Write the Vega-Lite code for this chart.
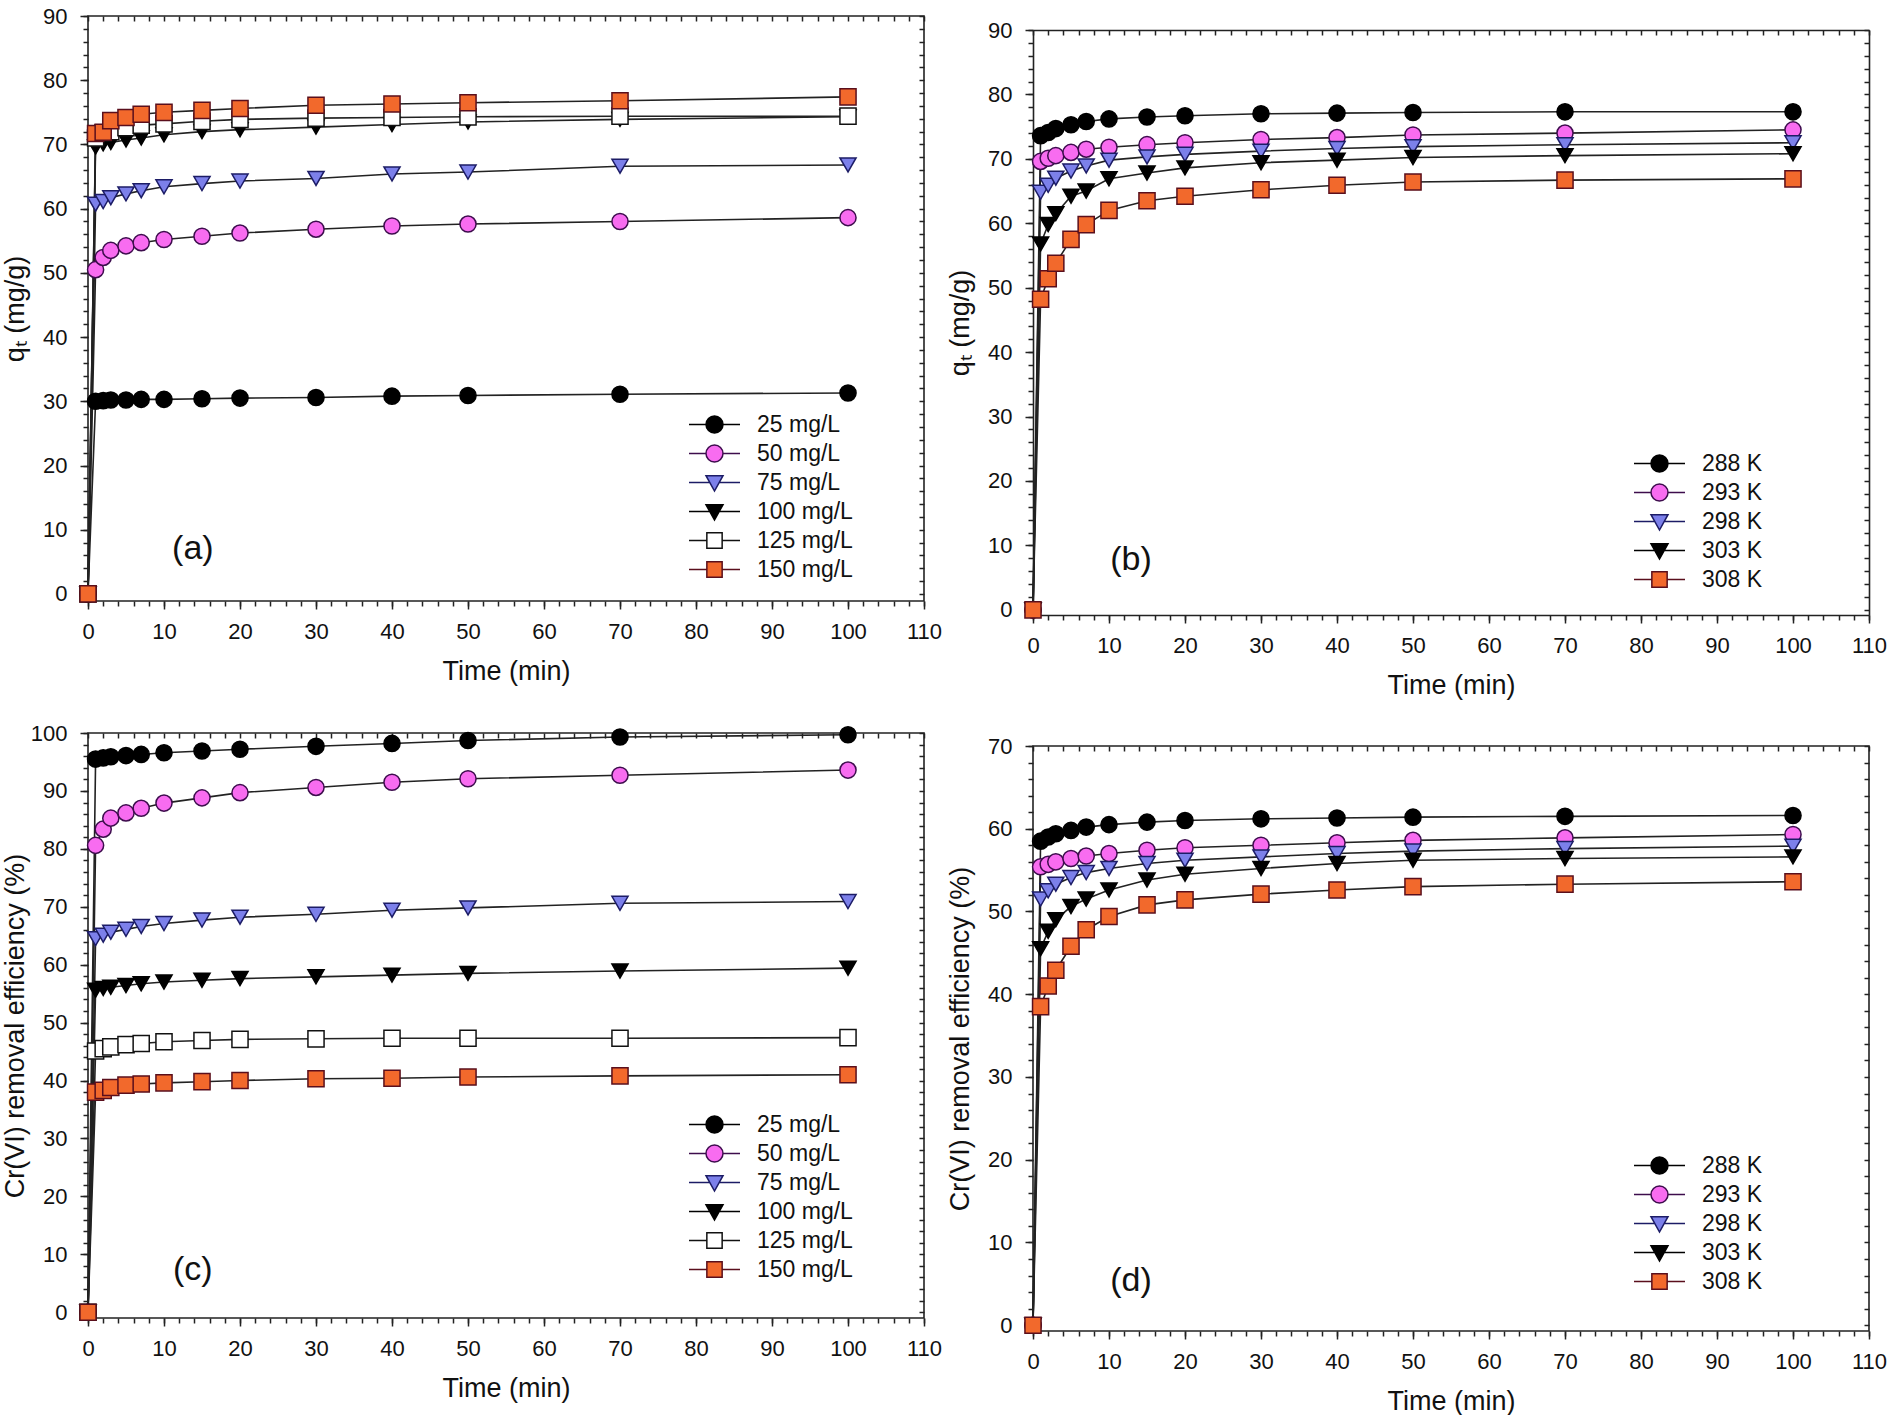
{
"$schema": "https://vega.github.io/schema/vega-lite/v6.json",
"background": "white",
"padding": {"left": 0, "top": 4, "right": 0, "bottom": 0},
"spacing": 2,
"config": {
  "font": "Liberation Sans",
  "view": {"stroke": "#222222", "strokeWidth": 1.6},
  "axis": {"labelFont": "Liberation Sans", "labelFontSize": 22, "labelColor": "#111111", "labelFlush": false, "labelOverlap": false, "titleFont": "Liberation Sans", "titleFontSize": 27, "titleFontWeight": "normal", "titleColor": "#111111", "tickColor": "#222222", "tickWidth": 1.5, "grid": false, "domain": false, "domainColor": "#222222", "domainWidth": 1.6},
  "legend": {"labelFont": "Liberation Sans", "labelFontSize": 23, "labelColor": "#111111"}
},
"datasets": {
"qconc": [
{"t":0,"s":"25 mg/L","v":0},{"t":1,"s":"25 mg/L","v":30.0},{"t":2,"s":"25 mg/L","v":30.1},{"t":3,"s":"25 mg/L","v":30.2},{"t":5,"s":"25 mg/L","v":30.2},{"t":7,"s":"25 mg/L","v":30.3},{"t":10,"s":"25 mg/L","v":30.3},{"t":15,"s":"25 mg/L","v":30.4},{"t":20,"s":"25 mg/L","v":30.5},{"t":30,"s":"25 mg/L","v":30.6},{"t":40,"s":"25 mg/L","v":30.8},{"t":50,"s":"25 mg/L","v":30.9},{"t":70,"s":"25 mg/L","v":31.1},{"t":100,"s":"25 mg/L","v":31.3},
{"t":0,"s":"50 mg/L","v":0},{"t":1,"s":"50 mg/L","v":50.5},{"t":2,"s":"50 mg/L","v":52.4},{"t":3,"s":"50 mg/L","v":53.5},{"t":5,"s":"50 mg/L","v":54.2},{"t":7,"s":"50 mg/L","v":54.7},{"t":10,"s":"50 mg/L","v":55.2},{"t":15,"s":"50 mg/L","v":55.7},{"t":20,"s":"50 mg/L","v":56.2},{"t":30,"s":"50 mg/L","v":56.8},{"t":40,"s":"50 mg/L","v":57.3},{"t":50,"s":"50 mg/L","v":57.6},{"t":70,"s":"50 mg/L","v":58.0},{"t":100,"s":"50 mg/L","v":58.6},
{"t":0,"s":"75 mg/L","v":0},{"t":1,"s":"75 mg/L","v":60.7},{"t":2,"s":"75 mg/L","v":61.1},{"t":3,"s":"75 mg/L","v":61.7},{"t":5,"s":"75 mg/L","v":62.3},{"t":7,"s":"75 mg/L","v":62.8},{"t":10,"s":"75 mg/L","v":63.4},{"t":15,"s":"75 mg/L","v":63.9},{"t":20,"s":"75 mg/L","v":64.3},{"t":30,"s":"75 mg/L","v":64.7},{"t":40,"s":"75 mg/L","v":65.4},{"t":50,"s":"75 mg/L","v":65.7},{"t":70,"s":"75 mg/L","v":66.6},{"t":100,"s":"75 mg/L","v":66.8},
{"t":0,"s":"100 mg/L","v":0},{"t":1,"s":"100 mg/L","v":69.6},{"t":2,"s":"100 mg/L","v":70.1},{"t":3,"s":"100 mg/L","v":70.3},{"t":5,"s":"100 mg/L","v":70.7},{"t":7,"s":"100 mg/L","v":71.0},{"t":10,"s":"100 mg/L","v":71.5},{"t":15,"s":"100 mg/L","v":72.0},{"t":20,"s":"100 mg/L","v":72.3},{"t":30,"s":"100 mg/L","v":72.7},{"t":40,"s":"100 mg/L","v":73.1},{"t":50,"s":"100 mg/L","v":73.5},{"t":70,"s":"100 mg/L","v":73.9},{"t":100,"s":"100 mg/L","v":74.3},
{"t":0,"s":"125 mg/L","v":0},{"t":1,"s":"125 mg/L","v":71.0},{"t":2,"s":"125 mg/L","v":71.8},{"t":3,"s":"125 mg/L","v":72.0},{"t":5,"s":"125 mg/L","v":72.6},{"t":7,"s":"125 mg/L","v":73.0},{"t":10,"s":"125 mg/L","v":73.2},{"t":15,"s":"125 mg/L","v":73.6},{"t":20,"s":"125 mg/L","v":73.9},{"t":30,"s":"125 mg/L","v":74.1},{"t":40,"s":"125 mg/L","v":74.2},{"t":50,"s":"125 mg/L","v":74.3},{"t":70,"s":"125 mg/L","v":74.4},{"t":100,"s":"125 mg/L","v":74.4},
{"t":0,"s":"150 mg/L","v":0},{"t":1,"s":"150 mg/L","v":71.7},{"t":2,"s":"150 mg/L","v":71.9},{"t":3,"s":"150 mg/L","v":73.7},{"t":5,"s":"150 mg/L","v":74.2},{"t":7,"s":"150 mg/L","v":74.7},{"t":10,"s":"150 mg/L","v":75.0},{"t":15,"s":"150 mg/L","v":75.3},{"t":20,"s":"150 mg/L","v":75.6},{"t":30,"s":"150 mg/L","v":76.1},{"t":40,"s":"150 mg/L","v":76.3},{"t":50,"s":"150 mg/L","v":76.5},{"t":70,"s":"150 mg/L","v":76.8},{"t":100,"s":"150 mg/L","v":77.4}
],
"qtemp": [
{"t":0,"s":"288 K","v":0},{"t":1,"s":"288 K","v":73.6},{"t":2,"s":"288 K","v":74.1},{"t":3,"s":"288 K","v":74.7},{"t":5,"s":"288 K","v":75.3},{"t":7,"s":"288 K","v":75.8},{"t":10,"s":"288 K","v":76.2},{"t":15,"s":"288 K","v":76.5},{"t":20,"s":"288 K","v":76.7},{"t":30,"s":"288 K","v":77.0},{"t":40,"s":"288 K","v":77.1},{"t":50,"s":"288 K","v":77.2},{"t":70,"s":"288 K","v":77.3},{"t":100,"s":"288 K","v":77.3},
{"t":0,"s":"293 K","v":0},{"t":1,"s":"293 K","v":69.6},{"t":2,"s":"293 K","v":70.1},{"t":3,"s":"293 K","v":70.5},{"t":5,"s":"293 K","v":71.0},{"t":7,"s":"293 K","v":71.5},{"t":10,"s":"293 K","v":71.8},{"t":15,"s":"293 K","v":72.2},{"t":20,"s":"293 K","v":72.5},{"t":30,"s":"293 K","v":73.0},{"t":40,"s":"293 K","v":73.3},{"t":50,"s":"293 K","v":73.7},{"t":70,"s":"293 K","v":74.0},{"t":100,"s":"293 K","v":74.5},
{"t":0,"s":"298 K","v":0},{"t":1,"s":"298 K","v":64.8},{"t":2,"s":"298 K","v":65.9},{"t":3,"s":"298 K","v":67.0},{"t":5,"s":"298 K","v":68.1},{"t":7,"s":"298 K","v":68.9},{"t":10,"s":"298 K","v":69.8},{"t":15,"s":"298 K","v":70.3},{"t":20,"s":"298 K","v":70.7},{"t":30,"s":"298 K","v":71.2},{"t":40,"s":"298 K","v":71.6},{"t":50,"s":"298 K","v":71.9},{"t":70,"s":"298 K","v":72.2},{"t":100,"s":"298 K","v":72.5},
{"t":0,"s":"303 K","v":0},{"t":1,"s":"303 K","v":56.8},{"t":2,"s":"303 K","v":59.8},{"t":3,"s":"303 K","v":61.5},{"t":5,"s":"303 K","v":64.2},{"t":7,"s":"303 K","v":65.0},{"t":10,"s":"303 K","v":66.9},{"t":15,"s":"303 K","v":67.8},{"t":20,"s":"303 K","v":68.6},{"t":30,"s":"303 K","v":69.4},{"t":40,"s":"303 K","v":69.8},{"t":50,"s":"303 K","v":70.2},{"t":70,"s":"303 K","v":70.5},{"t":100,"s":"303 K","v":70.8},
{"t":0,"s":"308 K","v":0},{"t":1,"s":"308 K","v":48.2},{"t":2,"s":"308 K","v":51.4},{"t":3,"s":"308 K","v":53.8},{"t":5,"s":"308 K","v":57.5},{"t":7,"s":"308 K","v":59.8},{"t":10,"s":"308 K","v":62.0},{"t":15,"s":"308 K","v":63.5},{"t":20,"s":"308 K","v":64.2},{"t":30,"s":"308 K","v":65.2},{"t":40,"s":"308 K","v":65.9},{"t":50,"s":"308 K","v":66.4},{"t":70,"s":"308 K","v":66.7},{"t":100,"s":"308 K","v":66.9}
],
"rconc": [
{"t":0,"s":"25 mg/L","v":0},{"t":1,"s":"25 mg/L","v":95.5},{"t":2,"s":"25 mg/L","v":95.7},{"t":3,"s":"25 mg/L","v":95.9},{"t":5,"s":"25 mg/L","v":96.1},{"t":7,"s":"25 mg/L","v":96.3},{"t":10,"s":"25 mg/L","v":96.6},{"t":15,"s":"25 mg/L","v":96.9},{"t":20,"s":"25 mg/L","v":97.2},{"t":30,"s":"25 mg/L","v":97.7},{"t":40,"s":"25 mg/L","v":98.2},{"t":50,"s":"25 mg/L","v":98.7},{"t":70,"s":"25 mg/L","v":99.3},{"t":100,"s":"25 mg/L","v":99.7},
{"t":0,"s":"50 mg/L","v":0},{"t":1,"s":"50 mg/L","v":80.6},{"t":2,"s":"50 mg/L","v":83.4},{"t":3,"s":"50 mg/L","v":85.3},{"t":5,"s":"50 mg/L","v":86.2},{"t":7,"s":"50 mg/L","v":87.0},{"t":10,"s":"50 mg/L","v":87.9},{"t":15,"s":"50 mg/L","v":88.8},{"t":20,"s":"50 mg/L","v":89.7},{"t":30,"s":"50 mg/L","v":90.6},{"t":40,"s":"50 mg/L","v":91.5},{"t":50,"s":"50 mg/L","v":92.1},{"t":70,"s":"50 mg/L","v":92.7},{"t":100,"s":"50 mg/L","v":93.6},
{"t":0,"s":"75 mg/L","v":0},{"t":1,"s":"75 mg/L","v":64.5},{"t":2,"s":"75 mg/L","v":65.1},{"t":3,"s":"75 mg/L","v":65.6},{"t":5,"s":"75 mg/L","v":66.1},{"t":7,"s":"75 mg/L","v":66.6},{"t":10,"s":"75 mg/L","v":67.1},{"t":15,"s":"75 mg/L","v":67.7},{"t":20,"s":"75 mg/L","v":68.2},{"t":30,"s":"75 mg/L","v":68.7},{"t":40,"s":"75 mg/L","v":69.4},{"t":50,"s":"75 mg/L","v":69.8},{"t":70,"s":"75 mg/L","v":70.6},{"t":100,"s":"75 mg/L","v":70.9},
{"t":0,"s":"100 mg/L","v":0},{"t":1,"s":"100 mg/L","v":55.6},{"t":2,"s":"100 mg/L","v":55.9},{"t":3,"s":"100 mg/L","v":56.1},{"t":5,"s":"100 mg/L","v":56.4},{"t":7,"s":"100 mg/L","v":56.7},{"t":10,"s":"100 mg/L","v":57.0},{"t":15,"s":"100 mg/L","v":57.3},{"t":20,"s":"100 mg/L","v":57.6},{"t":30,"s":"100 mg/L","v":57.9},{"t":40,"s":"100 mg/L","v":58.2},{"t":50,"s":"100 mg/L","v":58.5},{"t":70,"s":"100 mg/L","v":58.9},{"t":100,"s":"100 mg/L","v":59.4},
{"t":0,"s":"125 mg/L","v":0},{"t":1,"s":"125 mg/L","v":45.1},{"t":2,"s":"125 mg/L","v":45.5},{"t":3,"s":"125 mg/L","v":45.8},{"t":5,"s":"125 mg/L","v":46.2},{"t":7,"s":"125 mg/L","v":46.4},{"t":10,"s":"125 mg/L","v":46.7},{"t":15,"s":"125 mg/L","v":46.9},{"t":20,"s":"125 mg/L","v":47.1},{"t":30,"s":"125 mg/L","v":47.2},{"t":40,"s":"125 mg/L","v":47.3},{"t":50,"s":"125 mg/L","v":47.3},{"t":70,"s":"125 mg/L","v":47.3},{"t":100,"s":"125 mg/L","v":47.4},
{"t":0,"s":"150 mg/L","v":0},{"t":1,"s":"150 mg/L","v":38.0},{"t":2,"s":"150 mg/L","v":38.3},{"t":3,"s":"150 mg/L","v":38.8},{"t":5,"s":"150 mg/L","v":39.2},{"t":7,"s":"150 mg/L","v":39.4},{"t":10,"s":"150 mg/L","v":39.6},{"t":15,"s":"150 mg/L","v":39.8},{"t":20,"s":"150 mg/L","v":40.0},{"t":30,"s":"150 mg/L","v":40.3},{"t":40,"s":"150 mg/L","v":40.4},{"t":50,"s":"150 mg/L","v":40.6},{"t":70,"s":"150 mg/L","v":40.8},{"t":100,"s":"150 mg/L","v":41.0}
],
"rtemp": [
{"t":0,"s":"288 K","v":0},{"t":1,"s":"288 K","v":58.5},{"t":2,"s":"288 K","v":59.0},{"t":3,"s":"288 K","v":59.4},{"t":5,"s":"288 K","v":59.8},{"t":7,"s":"288 K","v":60.2},{"t":10,"s":"288 K","v":60.5},{"t":15,"s":"288 K","v":60.8},{"t":20,"s":"288 K","v":61.0},{"t":30,"s":"288 K","v":61.2},{"t":40,"s":"288 K","v":61.3},{"t":50,"s":"288 K","v":61.4},{"t":70,"s":"288 K","v":61.5},{"t":100,"s":"288 K","v":61.6},
{"t":0,"s":"293 K","v":0},{"t":1,"s":"293 K","v":55.4},{"t":2,"s":"293 K","v":55.7},{"t":3,"s":"293 K","v":56.0},{"t":5,"s":"293 K","v":56.4},{"t":7,"s":"293 K","v":56.7},{"t":10,"s":"293 K","v":57.0},{"t":15,"s":"293 K","v":57.4},{"t":20,"s":"293 K","v":57.7},{"t":30,"s":"293 K","v":58.0},{"t":40,"s":"293 K","v":58.3},{"t":50,"s":"293 K","v":58.6},{"t":70,"s":"293 K","v":58.9},{"t":100,"s":"293 K","v":59.3},
{"t":0,"s":"298 K","v":0},{"t":1,"s":"298 K","v":51.5},{"t":2,"s":"298 K","v":52.5},{"t":3,"s":"298 K","v":53.3},{"t":5,"s":"298 K","v":54.1},{"t":7,"s":"298 K","v":54.7},{"t":10,"s":"298 K","v":55.2},{"t":15,"s":"298 K","v":55.8},{"t":20,"s":"298 K","v":56.2},{"t":30,"s":"298 K","v":56.6},{"t":40,"s":"298 K","v":57.0},{"t":50,"s":"298 K","v":57.3},{"t":70,"s":"298 K","v":57.6},{"t":100,"s":"298 K","v":57.9},
{"t":0,"s":"303 K","v":0},{"t":1,"s":"303 K","v":45.5},{"t":2,"s":"303 K","v":47.6},{"t":3,"s":"303 K","v":49.0},{"t":5,"s":"303 K","v":50.6},{"t":7,"s":"303 K","v":51.5},{"t":10,"s":"303 K","v":52.6},{"t":15,"s":"303 K","v":53.8},{"t":20,"s":"303 K","v":54.5},{"t":30,"s":"303 K","v":55.2},{"t":40,"s":"303 K","v":55.8},{"t":50,"s":"303 K","v":56.2},{"t":70,"s":"303 K","v":56.4},{"t":100,"s":"303 K","v":56.6},
{"t":0,"s":"308 K","v":0},{"t":1,"s":"308 K","v":38.5},{"t":2,"s":"308 K","v":41.0},{"t":3,"s":"308 K","v":42.9},{"t":5,"s":"308 K","v":45.8},{"t":7,"s":"308 K","v":47.8},{"t":10,"s":"308 K","v":49.4},{"t":15,"s":"308 K","v":50.8},{"t":20,"s":"308 K","v":51.4},{"t":30,"s":"308 K","v":52.1},{"t":40,"s":"308 K","v":52.6},{"t":50,"s":"308 K","v":53.0},{"t":70,"s":"308 K","v":53.3},{"t":100,"s":"308 K","v":53.6}
]
},
"hconcat": [
{"spacing": 36, "vconcat": [
{
 "width": 836, "height": 585,
 "data": {"name": "qconc"},
 "layer": [
  {"mark": {"type": "line", "color": "#222222", "strokeWidth": 1.6},
   "encoding": {
    "x": {"field": "t", "type": "quantitative", "scale": {"domain": [0, 110], "nice": false, "zero": false}, "axis": {"orient": "bottom", "values": [0,10,20,30,40,50,60,70,80,90,100,110], "title": "Time (min)", "tickSize": 8, "labelPadding": 12, "titlePadding": 16}},
    "y": {"field": "v", "type": "quantitative", "scale": {"domain": [-1.1, 90], "nice": false, "zero": false}, "axis": {"orient": "left", "values": [0,10,20,30,40,50,60,70,80,90], "title": "q\u209c (mg/g)", "tickSize": 8, "labelPadding": 13, "titlePadding": 13}},
    "detail": {"field": "s"}}},
  {"mark": {"type": "point", "filled": true, "size": 260, "strokeWidth": 1.5, "opacity": 1},
   "encoding": {
    "x": {"field": "t", "type": "quantitative", "axis": {"orient": "bottom", "values": [0,2,4,6,8,10,12,14,16,18,20,22,24,26,28,30,32,34,36,38,40,42,44,46,48,50,52,54,56,58,60,62,64,66,68,70,72,74,76,78,80,82,84,86,88,90,92,94,96,98,100,102,104,106,108,110], "labels": false, "title": null, "tickSize": 5}},
    "y": {"field": "v", "type": "quantitative", "axis": {"orient": "left", "values": [0,2,4,6,8,10,12,14,16,18,20,22,24,26,28,30,32,34,36,38,40,42,44,46,48,50,52,54,56,58,60,62,64,66,68,70,72,74,76,78,80,82,84,86,88,90], "labels": false, "title": null, "tickSize": 5}},
    "shape": {"field": "s", "type": "nominal", "scale": {"domain": ["25 mg/L","50 mg/L","75 mg/L","100 mg/L","125 mg/L","150 mg/L"], "range": ["circle","circle","triangle-down","triangle-down","square","square"]}, "legend": null},
    "fill": {"field": "s", "type": "nominal", "scale": {"domain": ["25 mg/L","50 mg/L","75 mg/L","100 mg/L","125 mg/L","150 mg/L"], "range": ["#000000","#f86cf0","#7c80ea","#000000","#ffffff","#f2692c"]}, "legend": null},
    "stroke": {"field": "s", "type": "nominal", "scale": {"domain": ["25 mg/L","50 mg/L","75 mg/L","100 mg/L","125 mg/L","150 mg/L"], "range": ["#000000","#3d0d4d","#1c1c66","#000000","#111111","#5a0f1c"]}, "legend": null}}},
  {"transform": [{"filter": "false"}],
   "mark": {"type": "point", "filled": true, "strokeWidth": 1.5, "opacity": 1},
   "encoding": {
    "x": {"field": "t", "type": "quantitative", "axis": {"orient": "top", "values": [0,2,4,6,8,10,12,14,16,18,20,22,24,26,28,30,32,34,36,38,40,42,44,46,48,50,52,54,56,58,60,62,64,66,68,70,72,74,76,78,80,82,84,86,88,90,92,94,96,98,100,102,104,106,108,110], "labels": false, "title": null, "tickSize": -5}},
    "y": {"field": "v", "type": "quantitative", "axis": {"orient": "right", "values": [0,2,4,6,8,10,12,14,16,18,20,22,24,26,28,30,32,34,36,38,40,42,44,46,48,50,52,54,56,58,60,62,64,66,68,70,72,74,76,78,80,82,84,86,88,90], "labels": false, "title": null, "tickSize": -5}},
    "shape": {"field": "s", "type": "nominal", "scale": {"domain": ["25 mg/L","50 mg/L","75 mg/L","100 mg/L","125 mg/L","150 mg/L"], "range": ["M-3,0H-1M1,0H3M1,0A1,1,0,1,1,-1,0A1,1,0,1,1,1,0Z","M-3,0H-1M1,0H3M1,0A1,1,0,1,1,-1,0A1,1,0,1,1,1,0Z","M-3,0H-0.56M0.56,0H3M-1,-0.8H1L0,1Z","M-3,0H-0.56M0.56,0H3M-1,-0.8H1L0,1Z","M-3,0H-0.9M0.9,0H3M-0.9,-0.9H0.9V0.9H-0.9Z","M-3,0H-0.9M0.9,0H3M-0.9,-0.9H0.9V0.9H-0.9Z"]}, "legend": {"title": null, "orient": "none", "legendX": 615, "legendY": 397, "padding": 0, "labelOffset": 31, "rowPadding": 5, "symbolSize": 289, "symbolStrokeWidth": 1.5}},
    "fill": {"field": "s", "type": "nominal", "scale": {"domain": ["25 mg/L","50 mg/L","75 mg/L","100 mg/L","125 mg/L","150 mg/L"], "range": ["#000000","#f86cf0","#7c80ea","#000000","#ffffff","#f2692c"]}, "legend": {"title": null, "orient": "none", "legendX": 615, "legendY": 397, "padding": 0, "labelOffset": 31, "rowPadding": 5, "symbolSize": 289, "symbolStrokeWidth": 1.5}},
    "stroke": {"field": "s", "type": "nominal", "scale": {"domain": ["25 mg/L","50 mg/L","75 mg/L","100 mg/L","125 mg/L","150 mg/L"], "range": ["#000000","#3d0d4d","#1c1c66","#000000","#111111","#5a0f1c"]}, "legend": {"title": null, "orient": "none", "legendX": 615, "legendY": 397, "padding": 0, "labelOffset": 31, "rowPadding": 5, "symbolSize": 289, "symbolStrokeWidth": 1.5}}}},
  {"data": {"values": [{"label": "(a)"}]},
   "mark": {"type": "text", "fontSize": 34, "font": "Liberation Sans", "color": "#111111", "align": "center", "baseline": "middle"},
   "encoding": {"x": {"datum": 13.8, "type": "quantitative", "axis": null}, "y": {"datum": 7.0, "type": "quantitative", "axis": null}, "text": {"field": "label"}}}
 ],
 "resolve": {"scale": {"shape": "independent", "fill": "independent", "stroke": "independent"}, "axis": {"x": "independent", "y": "independent"}}
},
{
 "width": 836, "height": 585,
 "data": {"name": "rconc"},
 "layer": [
  {"mark": {"type": "line", "color": "#222222", "strokeWidth": 1.6},
   "encoding": {
    "x": {"field": "t", "type": "quantitative", "scale": {"domain": [0, 110], "nice": false, "zero": false}, "axis": {"orient": "bottom", "values": [0,10,20,30,40,50,60,70,80,90,100,110], "title": "Time (min)", "tickSize": 8, "labelPadding": 12, "titlePadding": 16}},
    "y": {"field": "v", "type": "quantitative", "scale": {"domain": [-1, 100], "nice": false, "zero": false}, "axis": {"orient": "left", "values": [0,10,20,30,40,50,60,70,80,90,100], "title": "Cr(VI) removal efficiency (%)", "tickSize": 8, "labelPadding": 13, "titlePadding": 1}},
    "detail": {"field": "s"}}},
  {"mark": {"type": "point", "filled": true, "size": 260, "strokeWidth": 1.5, "opacity": 1},
   "encoding": {
    "x": {"field": "t", "type": "quantitative", "axis": {"orient": "bottom", "values": [0,2,4,6,8,10,12,14,16,18,20,22,24,26,28,30,32,34,36,38,40,42,44,46,48,50,52,54,56,58,60,62,64,66,68,70,72,74,76,78,80,82,84,86,88,90,92,94,96,98,100,102,104,106,108,110], "labels": false, "title": null, "tickSize": 5}},
    "y": {"field": "v", "type": "quantitative", "axis": {"orient": "left", "values": [0,2,4,6,8,10,12,14,16,18,20,22,24,26,28,30,32,34,36,38,40,42,44,46,48,50,52,54,56,58,60,62,64,66,68,70,72,74,76,78,80,82,84,86,88,90,92,94,96,98,100], "labels": false, "title": null, "tickSize": 5}},
    "shape": {"field": "s", "type": "nominal", "scale": {"domain": ["25 mg/L","50 mg/L","75 mg/L","100 mg/L","125 mg/L","150 mg/L"], "range": ["circle","circle","triangle-down","triangle-down","square","square"]}, "legend": null},
    "fill": {"field": "s", "type": "nominal", "scale": {"domain": ["25 mg/L","50 mg/L","75 mg/L","100 mg/L","125 mg/L","150 mg/L"], "range": ["#000000","#f86cf0","#7c80ea","#000000","#ffffff","#f2692c"]}, "legend": null},
    "stroke": {"field": "s", "type": "nominal", "scale": {"domain": ["25 mg/L","50 mg/L","75 mg/L","100 mg/L","125 mg/L","150 mg/L"], "range": ["#000000","#3d0d4d","#1c1c66","#000000","#111111","#5a0f1c"]}, "legend": null}}},
  {"transform": [{"filter": "false"}],
   "mark": {"type": "point", "filled": true, "strokeWidth": 1.5, "opacity": 1},
   "encoding": {
    "x": {"field": "t", "type": "quantitative", "axis": {"orient": "top", "values": [0,2,4,6,8,10,12,14,16,18,20,22,24,26,28,30,32,34,36,38,40,42,44,46,48,50,52,54,56,58,60,62,64,66,68,70,72,74,76,78,80,82,84,86,88,90,92,94,96,98,100,102,104,106,108,110], "labels": false, "title": null, "tickSize": -5}},
    "y": {"field": "v", "type": "quantitative", "axis": {"orient": "right", "values": [0,2,4,6,8,10,12,14,16,18,20,22,24,26,28,30,32,34,36,38,40,42,44,46,48,50,52,54,56,58,60,62,64,66,68,70,72,74,76,78,80,82,84,86,88,90,92,94,96,98,100], "labels": false, "title": null, "tickSize": -5}},
    "shape": {"field": "s", "type": "nominal", "scale": {"domain": ["25 mg/L","50 mg/L","75 mg/L","100 mg/L","125 mg/L","150 mg/L"], "range": ["M-3,0H-1M1,0H3M1,0A1,1,0,1,1,-1,0A1,1,0,1,1,1,0Z","M-3,0H-1M1,0H3M1,0A1,1,0,1,1,-1,0A1,1,0,1,1,1,0Z","M-3,0H-0.56M0.56,0H3M-1,-0.8H1L0,1Z","M-3,0H-0.56M0.56,0H3M-1,-0.8H1L0,1Z","M-3,0H-0.9M0.9,0H3M-0.9,-0.9H0.9V0.9H-0.9Z","M-3,0H-0.9M0.9,0H3M-0.9,-0.9H0.9V0.9H-0.9Z"]}, "legend": {"title": null, "orient": "none", "legendX": 615, "legendY": 380, "padding": 0, "labelOffset": 31, "rowPadding": 5, "symbolSize": 289, "symbolStrokeWidth": 1.5}},
    "fill": {"field": "s", "type": "nominal", "scale": {"domain": ["25 mg/L","50 mg/L","75 mg/L","100 mg/L","125 mg/L","150 mg/L"], "range": ["#000000","#f86cf0","#7c80ea","#000000","#ffffff","#f2692c"]}, "legend": {"title": null, "orient": "none", "legendX": 615, "legendY": 380, "padding": 0, "labelOffset": 31, "rowPadding": 5, "symbolSize": 289, "symbolStrokeWidth": 1.5}},
    "stroke": {"field": "s", "type": "nominal", "scale": {"domain": ["25 mg/L","50 mg/L","75 mg/L","100 mg/L","125 mg/L","150 mg/L"], "range": ["#000000","#3d0d4d","#1c1c66","#000000","#111111","#5a0f1c"]}, "legend": {"title": null, "orient": "none", "legendX": 615, "legendY": 380, "padding": 0, "labelOffset": 31, "rowPadding": 5, "symbolSize": 289, "symbolStrokeWidth": 1.5}}}},
  {"data": {"values": [{"label": "(c)"}]},
   "mark": {"type": "text", "fontSize": 34, "font": "Liberation Sans", "color": "#111111", "align": "center", "baseline": "middle"},
   "encoding": {"x": {"datum": 13.8, "type": "quantitative", "axis": null}, "y": {"datum": 7.3, "type": "quantitative", "axis": null}, "text": {"field": "label"}}}
 ],
 "resolve": {"scale": {"shape": "independent", "fill": "independent", "stroke": "independent"}, "axis": {"x": "independent", "y": "independent"}}
}
]},
{"spacing": 36, "vconcat": [
{
 "width": 836, "height": 599,
 "view": {"stroke": null},
 "data": {"name": "qtemp"},
 "layer": [
  {"mark": {"type": "line", "color": "#222222", "strokeWidth": 1.6},
   "encoding": {
    "x": {"field": "t", "type": "quantitative", "scale": {"domain": [0, 110], "nice": false, "zero": false}, "axis": {"orient": "bottom", "values": [0,10,20,30,40,50,60,70,80,90,100,110], "title": "Time (min)", "tickSize": 8, "labelPadding": 12, "titlePadding": 16, "domain": true}},
    "y": {"field": "v", "type": "quantitative", "scale": {"domain": [-0.8, 90], "range": [599, 14], "nice": false, "zero": false}, "axis": {"orient": "left", "values": [0,10,20,30,40,50,60,70,80,90], "title": "q\u209c (mg/g)", "tickSize": 8, "labelPadding": 13, "titlePadding": 13, "domain": true}},
    "detail": {"field": "s"}}},
  {"mark": {"type": "point", "filled": true, "size": 260, "strokeWidth": 1.5, "opacity": 1},
   "encoding": {
    "x": {"field": "t", "type": "quantitative", "axis": {"orient": "bottom", "values": [0,2,4,6,8,10,12,14,16,18,20,22,24,26,28,30,32,34,36,38,40,42,44,46,48,50,52,54,56,58,60,62,64,66,68,70,72,74,76,78,80,82,84,86,88,90,92,94,96,98,100,102,104,106,108,110], "labels": false, "title": null, "tickSize": 5}},
    "y": {"field": "v", "type": "quantitative", "axis": {"orient": "left", "values": [0,2,4,6,8,10,12,14,16,18,20,22,24,26,28,30,32,34,36,38,40,42,44,46,48,50,52,54,56,58,60,62,64,66,68,70,72,74,76,78,80,82,84,86,88,90], "labels": false, "title": null, "tickSize": 5}},
    "shape": {"field": "s", "type": "nominal", "scale": {"domain": ["288 K","293 K","298 K","303 K","308 K"], "range": ["circle","circle","triangle-down","triangle-down","square"]}, "legend": null},
    "fill": {"field": "s", "type": "nominal", "scale": {"domain": ["288 K","293 K","298 K","303 K","308 K"], "range": ["#000000","#f86cf0","#7c80ea","#000000","#f2692c"]}, "legend": null},
    "stroke": {"field": "s", "type": "nominal", "scale": {"domain": ["288 K","293 K","298 K","303 K","308 K"], "range": ["#000000","#3d0d4d","#1c1c66","#000000","#5a0f1c"]}, "legend": null}}},
  {"transform": [{"filter": "false"}],
   "mark": {"type": "point", "filled": true, "strokeWidth": 1.5, "opacity": 1},
   "encoding": {
    "x": {"field": "t", "type": "quantitative", "axis": {"orient": "top", "offset": -14, "domain": true, "values": [0,2,4,6,8,10,12,14,16,18,20,22,24,26,28,30,32,34,36,38,40,42,44,46,48,50,52,54,56,58,60,62,64,66,68,70,72,74,76,78,80,82,84,86,88,90,92,94,96,98,100,102,104,106,108,110], "labels": false, "title": null, "tickSize": -5}},
    "y": {"field": "v", "type": "quantitative", "axis": {"orient": "right", "domain": true, "values": [0,2,4,6,8,10,12,14,16,18,20,22,24,26,28,30,32,34,36,38,40,42,44,46,48,50,52,54,56,58,60,62,64,66,68,70,72,74,76,78,80,82,84,86,88,90], "labels": false, "title": null, "tickSize": -5}},
    "shape": {"field": "s", "type": "nominal", "scale": {"domain": ["288 K","293 K","298 K","303 K","308 K"], "range": ["M-3,0H-1M1,0H3M1,0A1,1,0,1,1,-1,0A1,1,0,1,1,1,0Z","M-3,0H-1M1,0H3M1,0A1,1,0,1,1,-1,0A1,1,0,1,1,1,0Z","M-3,0H-0.56M0.56,0H3M-1,-0.8H1L0,1Z","M-3,0H-0.56M0.56,0H3M-1,-0.8H1L0,1Z","M-3,0H-0.9M0.9,0H3M-0.9,-0.9H0.9V0.9H-0.9Z"]}, "legend": {"title": null, "orient": "none", "legendX": 615, "legendY": 436, "padding": 0, "labelOffset": 31, "rowPadding": 5, "symbolSize": 289, "symbolStrokeWidth": 1.5}},
    "fill": {"field": "s", "type": "nominal", "scale": {"domain": ["288 K","293 K","298 K","303 K","308 K"], "range": ["#000000","#f86cf0","#7c80ea","#000000","#f2692c"]}, "legend": {"title": null, "orient": "none", "legendX": 615, "legendY": 436, "padding": 0, "labelOffset": 31, "rowPadding": 5, "symbolSize": 289, "symbolStrokeWidth": 1.5}},
    "stroke": {"field": "s", "type": "nominal", "scale": {"domain": ["288 K","293 K","298 K","303 K","308 K"], "range": ["#000000","#3d0d4d","#1c1c66","#000000","#5a0f1c"]}, "legend": {"title": null, "orient": "none", "legendX": 615, "legendY": 436, "padding": 0, "labelOffset": 31, "rowPadding": 5, "symbolSize": 289, "symbolStrokeWidth": 1.5}}}},
  {"data": {"values": [{"label": "(b)"}]},
   "mark": {"type": "text", "fontSize": 34, "font": "Liberation Sans", "color": "#111111", "align": "center", "baseline": "middle"},
   "encoding": {"x": {"datum": 12.9, "type": "quantitative", "axis": null}, "y": {"datum": 7.8, "type": "quantitative", "axis": null}, "text": {"field": "label"}}}
 ],
 "resolve": {"scale": {"shape": "independent", "fill": "independent", "stroke": "independent"}, "axis": {"x": "independent", "y": "independent"}}
},
{
 "width": 836, "height": 585,
 "data": {"name": "rtemp"},
 "layer": [
  {"mark": {"type": "line", "color": "#222222", "strokeWidth": 1.6},
   "encoding": {
    "x": {"field": "t", "type": "quantitative", "scale": {"domain": [0, 110], "nice": false, "zero": false}, "axis": {"orient": "bottom", "values": [0,10,20,30,40,50,60,70,80,90,100,110], "title": "Time (min)", "tickSize": 8, "labelPadding": 12, "titlePadding": 16}},
    "y": {"field": "v", "type": "quantitative", "scale": {"domain": [-0.7, 70], "nice": false, "zero": false}, "axis": {"orient": "left", "values": [0,10,20,30,40,50,60,70], "title": "Cr(VI) removal efficiency (%)", "tickSize": 8, "labelPadding": 13, "titlePadding": 13}},
    "detail": {"field": "s"}}},
  {"mark": {"type": "point", "filled": true, "size": 260, "strokeWidth": 1.5, "opacity": 1},
   "encoding": {
    "x": {"field": "t", "type": "quantitative", "axis": {"orient": "bottom", "values": [0,2,4,6,8,10,12,14,16,18,20,22,24,26,28,30,32,34,36,38,40,42,44,46,48,50,52,54,56,58,60,62,64,66,68,70,72,74,76,78,80,82,84,86,88,90,92,94,96,98,100,102,104,106,108,110], "labels": false, "title": null, "tickSize": 5}},
    "y": {"field": "v", "type": "quantitative", "axis": {"orient": "left", "values": [0,2,4,6,8,10,12,14,16,18,20,22,24,26,28,30,32,34,36,38,40,42,44,46,48,50,52,54,56,58,60,62,64,66,68,70], "labels": false, "title": null, "tickSize": 5}},
    "shape": {"field": "s", "type": "nominal", "scale": {"domain": ["288 K","293 K","298 K","303 K","308 K"], "range": ["circle","circle","triangle-down","triangle-down","square"]}, "legend": null},
    "fill": {"field": "s", "type": "nominal", "scale": {"domain": ["288 K","293 K","298 K","303 K","308 K"], "range": ["#000000","#f86cf0","#7c80ea","#000000","#f2692c"]}, "legend": null},
    "stroke": {"field": "s", "type": "nominal", "scale": {"domain": ["288 K","293 K","298 K","303 K","308 K"], "range": ["#000000","#3d0d4d","#1c1c66","#000000","#5a0f1c"]}, "legend": null}}},
  {"transform": [{"filter": "false"}],
   "mark": {"type": "point", "filled": true, "strokeWidth": 1.5, "opacity": 1},
   "encoding": {
    "x": {"field": "t", "type": "quantitative", "axis": {"orient": "top", "values": [0,2,4,6,8,10,12,14,16,18,20,22,24,26,28,30,32,34,36,38,40,42,44,46,48,50,52,54,56,58,60,62,64,66,68,70,72,74,76,78,80,82,84,86,88,90,92,94,96,98,100,102,104,106,108,110], "labels": false, "title": null, "tickSize": -5}},
    "y": {"field": "v", "type": "quantitative", "axis": {"orient": "right", "values": [0,2,4,6,8,10,12,14,16,18,20,22,24,26,28,30,32,34,36,38,40,42,44,46,48,50,52,54,56,58,60,62,64,66,68,70], "labels": false, "title": null, "tickSize": -5}},
    "shape": {"field": "s", "type": "nominal", "scale": {"domain": ["288 K","293 K","298 K","303 K","308 K"], "range": ["M-3,0H-1M1,0H3M1,0A1,1,0,1,1,-1,0A1,1,0,1,1,1,0Z","M-3,0H-1M1,0H3M1,0A1,1,0,1,1,-1,0A1,1,0,1,1,1,0Z","M-3,0H-0.56M0.56,0H3M-1,-0.8H1L0,1Z","M-3,0H-0.56M0.56,0H3M-1,-0.8H1L0,1Z","M-3,0H-0.9M0.9,0H3M-0.9,-0.9H0.9V0.9H-0.9Z"]}, "legend": {"title": null, "orient": "none", "legendX": 615, "legendY": 408, "padding": 0, "labelOffset": 31, "rowPadding": 5, "symbolSize": 289, "symbolStrokeWidth": 1.5}},
    "fill": {"field": "s", "type": "nominal", "scale": {"domain": ["288 K","293 K","298 K","303 K","308 K"], "range": ["#000000","#f86cf0","#7c80ea","#000000","#f2692c"]}, "legend": {"title": null, "orient": "none", "legendX": 615, "legendY": 408, "padding": 0, "labelOffset": 31, "rowPadding": 5, "symbolSize": 289, "symbolStrokeWidth": 1.5}},
    "stroke": {"field": "s", "type": "nominal", "scale": {"domain": ["288 K","293 K","298 K","303 K","308 K"], "range": ["#000000","#3d0d4d","#1c1c66","#000000","#5a0f1c"]}, "legend": {"title": null, "orient": "none", "legendX": 615, "legendY": 408, "padding": 0, "labelOffset": 31, "rowPadding": 5, "symbolSize": 289, "symbolStrokeWidth": 1.5}}}},
  {"data": {"values": [{"label": "(d)"}]},
   "mark": {"type": "text", "fontSize": 34, "font": "Liberation Sans", "color": "#111111", "align": "center", "baseline": "middle"},
   "encoding": {"x": {"datum": 12.9, "type": "quantitative", "axis": null}, "y": {"datum": 5.3, "type": "quantitative", "axis": null}, "text": {"field": "label"}}}
 ],
 "resolve": {"scale": {"shape": "independent", "fill": "independent", "stroke": "independent"}, "axis": {"x": "independent", "y": "independent"}}
}
]}
]
}
